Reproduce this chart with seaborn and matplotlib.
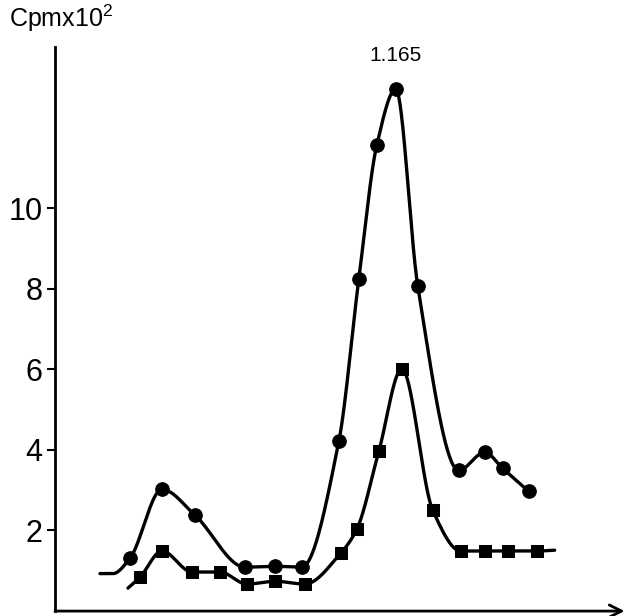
import numpy as np
import pandas as pd
import seaborn as sns
from matplotlib import pyplot as plt

# fraction position (arbitrary units along the x axis) and counts (Cpm x 10^2)
circle_x = [7.5, 10.7, 14.0, 19.0, 22.0, 24.7, 28.4, 30.4, 32.2, 34.1, 36.3, 40.4, 43.0, 44.8, 47.4]
circle_y = [1.31, 3.02, 2.38, 1.09, 1.11, 1.09, 4.21, 8.24, 11.56, 12.95, 8.07, 3.49, 3.94, 3.54, 2.97]
square_x = [8.5, 10.7, 13.7, 16.5, 19.2, 22.0, 25.0, 28.6, 30.2, 32.4, 34.7, 37.8, 40.6, 43.0, 45.3, 48.2]
square_y = [0.84, 1.49, 0.97, 0.97, 0.67, 0.74, 0.67, 1.44, 2.03, 3.96, 6.01, 2.50, 1.49, 1.49, 1.49, 1.49]

# unmarked ends of the drawn curves
circle_lead_x, circle_lead_y = [4.5, 5.8], [0.93, 0.93]
square_lead_x, square_lead_y = [7.3], [0.57]
square_tail_x, square_tail_y = [50.0], [1.51]

peak_label = "1.165"


def smooth(x, y, n=40):
    # monotone cubic (Fritsch-Carlson) through the drawn points
    x = np.asarray(x, float)
    y = np.asarray(y, float)
    h = np.diff(x)
    d = np.diff(y) / h
    m = np.zeros_like(y)
    m[0], m[-1] = d[0], d[-1]
    for i in range(1, len(y) - 1):
        if d[i - 1] * d[i] > 0:
            w1 = 2 * h[i] + h[i - 1]
            w2 = h[i] + 2 * h[i - 1]
            m[i] = (w1 + w2) / (w1 / d[i - 1] + w2 / d[i])
    xs, ys = [], []
    for i in range(len(h)):
        t = np.linspace(0, 1, n, endpoint=False)
        h00 = 2 * t**3 - 3 * t**2 + 1
        h10 = t**3 - 2 * t**2 + t
        h01 = -2 * t**3 + 3 * t**2
        h11 = t**3 - t**2
        xs.append(x[i] + t * h[i])
        ys.append(h00 * y[i] + h10 * h[i] * m[i] + h01 * y[i + 1] + h11 * h[i] * m[i + 1])
    xs.append([x[-1]])
    ys.append([y[-1]])
    return np.concatenate(xs), np.concatenate(ys)


sns.set_style("white")
plt.rcParams["font.family"] = ["Liberation Sans", "DejaVu Sans"]
plt.rcParams["text.color"] = "black"
plt.rcParams["ytick.color"] = "black"

fig = plt.figure(figsize=(6.28, 6.16), dpi=100)
ax = fig.add_axes([0.0876, 0.008, 0.907, 0.916])

cx, cy = smooth(circle_lead_x + circle_x, circle_lead_y + circle_y)
sx, sy = smooth(square_lead_x + square_x + square_tail_x, square_lead_y + square_y + square_tail_y)
curves = pd.concat([
    pd.DataFrame({"x": cx, "y": cy, "series": "circle"}),
    pd.DataFrame({"x": sx, "y": sy, "series": "square"}),
])
sns.lineplot(data=curves, x="x", y="y", units="series", estimator=None, sort=False,
             color="black", linewidth=2.4, ax=ax)
sns.scatterplot(x=circle_x, y=circle_y, marker="o", s=95, color="black", edgecolor="black", ax=ax, zorder=3)
sns.scatterplot(x=square_x, y=square_y, marker="s", s=85, color="black", edgecolor="black", ax=ax, zorder=3)

ax.set_xlim(0, 57)
ax.set_ylim(0, 14)
ax.set_xlabel("")
ax.set_ylabel("")
ax.set_xticks([])
ax.set_yticks([2, 4, 6, 8, 10])
ax.set_yticklabels(["2", "4", "6", "8", "10"])
ax.tick_params(axis="y", direction="out", length=6, width=1.5, pad=3, labelsize=22,
               left=True, color="black", labelcolor="black")

for side in ["top", "right", "bottom"]:
    ax.spines[side].set_visible(False)
ax.spines["left"].set_linewidth(2)
ax.spines["left"].set_color("black")

ax.annotate("", xy=(1.0, 0), xycoords="axes fraction", xytext=(0, 0), textcoords="axes fraction",
            arrowprops=dict(arrowstyle="->", color="black", lw=2, mutation_scale=22, shrinkA=0, shrinkB=0))

ax.text(circle_x[9], 13.55, peak_label, ha="center", va="bottom", fontsize=15, color="black")
fig.text(0.015, 0.945, r"Cpm$\mathregular{x10^2}$", ha="left", va="bottom", fontsize=18, color="black")

fig.savefig("out.png", dpi=100)
